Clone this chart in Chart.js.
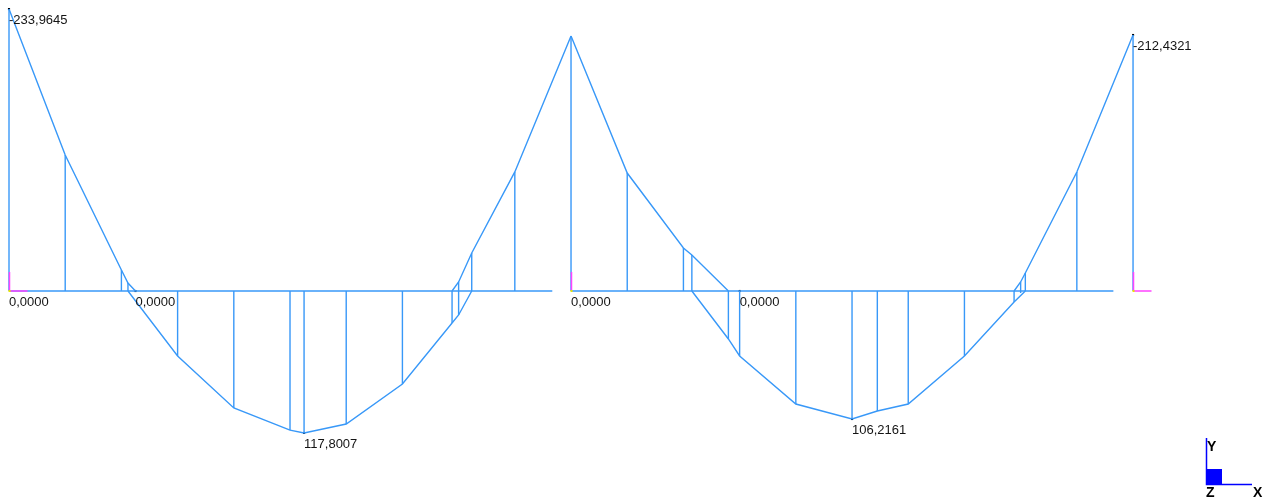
<!DOCTYPE html>
<html>
<head>
<meta charset="utf-8">
<script src="https://cdn.jsdelivr.net/npm/chart.js@4.4.1/dist/chart.umd.min.js"></script>
<style>
	html, body { margin: 0; padding: 0; background: #ffffff; }
	#wrap { width: 1271px; height: 499px; }
</style>
</head>
<body>
<div id="wrap"><canvas id="momentChart" width="1271" height="499"></canvas></div>
<script>
// Bending moment diagram of a two span beam (x in m, M in kNm, sagging drawn downwards)
const supportX = [0, 6, 12];

// diagram outline, one piece per run of elements
const span1Top = [[0, -233.9645], [0.6, -112.9], [1.2, -17.4], [1.27, -6.6], [1.35, 0]];
const span1Bottom = [[1.27, 0], [1.8, 53.9], [2.4, 97.1], [3.0, 115.4], [3.15, 117.8007], [3.6, 110.4], [4.2, 77.2], [4.73, 26.6], [4.8, 19.9], [4.94, 0]];
const span1End = [[4.73, 0], [4.8, -7.5], [4.94, -31.5], [5.4, -98.8], [6.0, -211.6]];
const span2Top = [[6.0, -211.6], [6.6, -97.9], [7.2, -35.7], [7.29, -29.9], [7.68, 0]];
const span2Bottom = [[7.29, 0], [7.68, 39.8], [7.8, 53.9], [8.4, 93.8], [9.0, 106.2161], [9.27, 99.6], [9.6, 93.8], [10.2, 53.9], [10.73, 9.1], [10.85, 0]];
const span2End = [[10.73, 0], [10.8, -7.5], [10.85, -14.9], [11.4, -98.8], [12.0, -212.4321]];

// beam axis pieces
const beamFrom = [0, 6.01];
const beamTo = [5.8, 11.79];

// ordinate lines (x, from, to)
const ordX = [0, 0.6, 1.2, 1.27, 1.8, 2.4, 3.0, 3.15, 3.6, 4.2, 4.73, 4.8, 4.94, 5.4, 6.0,
	6.6, 7.2, 7.29, 7.68, 7.8, 8.4, 9.0, 9.27, 9.6, 10.2, 10.73, 10.8, 10.85, 11.4, 12.0];
const ordFrom = [0, 0, 0, 0, 0, 0, 0, 0, 0, 0, 0, -7.5, -31.5, -98.8, -211.6,
	-97.9, -35.7, -29.9, 0, 0, 0, 0, 0, 0, 0, 0, -7.5, -14.9, -98.8, -212.4321];
const ordTo = [-233.9645, -112.9, -17.4, -6.6, 53.9, 97.1, 115.4, 117.8007, 110.4, 77.2, 26.6, 19.9, 0, 0, 0,
	0, 0, 0, 39.8, 53.9, 93.8, 106.2161, 99.6, 93.8, 53.9, 9.1, 1.7, 0, 0, 0];

// value labels
const labelX = [0, 0, 1.35, 3.15, 6.0, 7.8, 9.0, 12.0];
const labelM = [-233.9645, 0, 0, 117.8007, 0, 0, 106.2161, -212.4321];
const labelText = ["-233,9645", "0,0000", "0,0000", "117,8007", "0,0000", "0,0000", "106,2161", "-212,4321"];

// marked points
const dotX = [0, 1.35, 3.15, 7.8, 9.0, 12.0];
const dotM = [-233.9645, 0, 117.8007, 0, 106.2161, -212.4321];

const BLUE = "#3898f8";
const FONT = "13px 'Liberation Sans', Arial, sans-serif";

function lineSet(points, color) {
	return {
		data: points.map(([x, y]) => ({ x: x, y: y })),
		showLine: true,
		borderColor: color,
		borderWidth: 1.4,
		pointRadius: 0,
		fill: false,
		tension: 0,
	};
}

const datasets = [];
beamFrom.forEach((x0, i) => datasets.push(lineSet([[x0, 0], [beamTo[i], 0]], BLUE)));
ordX.forEach((x, i) => datasets.push(lineSet([[x, ordFrom[i]], [x, ordTo[i]]], BLUE)));
[span1Top, span1Bottom, span1End, span2Top, span2Bottom, span2End].forEach((p) => datasets.push(lineSet(p, BLUE)));
datasets.push({
	data: dotX.map((x, i) => ({ x: x, y: dotM[i] })),
	showLine: false,
	pointStyle: "rect",
	pointRadius: 1.5,
	pointBackgroundColor: "#000000",
	pointBorderWidth: 0,
});

// supports, labels and the axis triad are drawn on top
const overlay = {
	id: "overlay",
	afterDatasetsDraw(chart) {
		const ctx = chart.ctx;
		const xs = chart.scales.x;
		const ys = chart.scales.y;
		ctx.save();

		// support markers
		ctx.strokeStyle = "#ff44ff";
		ctx.lineWidth = 1.5;
		supportX.forEach((x, i) => {
			const px = Math.round(xs.getPixelForValue(x)) + 0.5;
			const py = ys.getPixelForValue(0);
			ctx.beginPath();
			ctx.moveTo(px, py);
			ctx.lineTo(px, py - 19);
			if (i !== 1) {
				ctx.moveTo(px, py);
				ctx.lineTo(px + 18, py);
			}
			ctx.stroke();
			ctx.fillStyle = "#e8e800";
			ctx.fillRect(px - 1, py - 1, 2, 2);
		});

		// value labels
		ctx.fillStyle = "#141414";
		ctx.font = FONT;
		ctx.textAlign = "left";
		ctx.textBaseline = "alphabetic";
		labelText.forEach((t, i) => {
			const px = xs.getPixelForValue(labelX[i]);
			const py = ys.getPixelForValue(labelM[i]);
			ctx.fillText(t, px, py + 15);
		});

		// global axis triad
		ctx.strokeStyle = "#0000ff";
		ctx.lineWidth = 1.5;
		ctx.beginPath();
		ctx.moveTo(1206.5, 438);
		ctx.lineTo(1206.5, 484.5);
		ctx.lineTo(1252, 484.5);
		ctx.stroke();
		ctx.fillStyle = "#0000ff";
		ctx.fillRect(1206, 469, 16, 16);
		ctx.fillStyle = "#000000";
		ctx.font = "bold 14px 'Liberation Sans', Arial, sans-serif";
		ctx.fillText("Y", 1207, 451);
		ctx.fillText("Z", 1206, 497);
		ctx.fillText("X", 1253, 497);
		ctx.restore();
	},
};

document.addEventListener("DOMContentLoaded", function () {
	const ctx = document.getElementById("momentChart").getContext("2d");
	new Chart(ctx, {
		type: "scatter",
		data: { datasets: datasets },
		options: {
			responsive: false,
			animation: false,
			layout: { padding: 0, autoPadding: false },
			plugins: { legend: { display: false }, tooltip: { enabled: false } },
			scales: {
				x: { type: "linear", display: false, min: -0.0961, max: 13.4728 },
				y: { type: "linear", display: false, reverse: true, min: -241.49, max: 172.61 },
			},
		},
		plugins: [overlay],
	});
});
</script>
</body>
</html>
